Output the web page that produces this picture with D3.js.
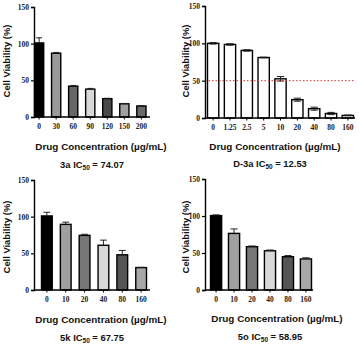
<!DOCTYPE html>
<html><head><meta charset="utf-8">
<script src="https://cdn.jsdelivr.net/npm/d3@7"></script>
<style>body{margin:0;background:#fff}svg{display:block}</style>
</head><body><svg id="c" width="359" height="346"></svg>
<script>
// ---- data ----
const yTicks = [0, 50, 100, 150];

const cats3a = ["0","30","60","90","120","150","200"];
const vals3a = [101, 87, 42, 38, 25, 18, 15];
const errs3a = [7, 1, 1, 1, 0.5, 0.5, 0.5];
const name3a = "3a", ic3a = "74.07";

const catsD3a = ["0","1.25","2.5","5","10","20","40","80","160"];
const valsD3a = [100, 98.5, 90.5, 81, 52.5, 24.5, 12.5, 6, 3.5];
const errsD3a = [1, 1, 1, 0.5, 3, 2, 2, 1.5, 0.5];
const nameD3a = "D-3a", icD3a = "12.53";

const cats5k = ["0","10","20","40","80","160"];
const vals5k = [101, 89.5, 74.5, 61, 48, 30.5];
const errs5k = [5, 3, 1.5, 7, 6, 0.5];
const name5k = "5k", ic5k = "67.75";

const cats5o = ["0","10","20","40","80","160"];
const vals5o = [100.5, 76.5, 58.5, 53, 45, 42];
const errs5o = [1, 6, 1, 1, 1.5, 1.5];
const name5o = "5o", ic5o = "58.95";

const refLine = 50;

// ---- styles ----
const grays7 = ["#000000","#9a9a9a","#666666","#d8d8d8","#4a4a4a","#a0a0a0","#6a6a6a"];
const grays6 = ["#000000","#a0a0a0","#777777","#d8d8d8","#555555","#a8a8a8"];
const white9 = Array(9).fill("#ffffff");

const svg = d3.select("#c");
const tickFont = "'Liberation Serif','Times New Roman',serif";
const titleFont = "'Liberation Sans',Arial,sans-serif";

function panel(o) {
  const g = svg.append("g");
  const y = d3.scaleLinear().domain([0, 150]).range([o.y0, o.y150]);
  const x = d3.scaleBand().domain(o.cats).range([o.b0, o.b1])
    .paddingInner(o.pi).paddingOuter(0);
  const bw = x.bandwidth();

  // bars
  g.selectAll("rect.bar").data(o.vals).join("rect")
    .attr("x", (d, i) => x(o.cats[i]))
    .attr("y", d => y(d))
    .attr("width", bw)
    .attr("height", d => y(0) - y(d))
    .attr("fill", (d, i) => o.colors[i])
    .attr("stroke", "#000").attr("stroke-width", 1.4);

  // error bars
  const eg = g.append("g").attr("stroke", "#222").attr("stroke-width", 1);
  o.vals.forEach((v, i) => {
    const cx = x(o.cats[i]) + bw / 2;
    const top = y(v + o.errs[i]);
    const bot = o.both ? y(v - o.errs[i]) : y(v);
    const cw = bw * 0.32;
    eg.append("line").attr("x1", cx).attr("x2", cx).attr("y1", top).attr("y2", bot);
    eg.append("line").attr("x1", cx - cw).attr("x2", cx + cw).attr("y1", top).attr("y2", top);
    if (o.both) eg.append("line").attr("x1", cx - cw).attr("x2", cx + cw).attr("y1", bot).attr("y2", bot);
  });

  // reference line
  if (o.ref != null) {
    g.append("line").attr("x1", o.ax).attr("x2", o.axEnd)
      .attr("y1", y(o.ref)).attr("y2", y(o.ref))
      .attr("stroke", "#e0302a").attr("stroke-width", 1)
      .attr("stroke-dasharray", "1.5,2");
  }

  // y axis
  const ya = g.append("g").attr("transform", `translate(${o.ax},0)`)
    .call(d3.axisLeft(y).tickValues(yTicks).tickSize(3).tickPadding(2).tickFormat(d3.format("d")));
  ya.select(".domain").attr("stroke", "#000").attr("stroke-width", 1.4);
  ya.selectAll(".tick line").attr("stroke", "#000").attr("stroke-width", 1.2);
  ya.selectAll("text").attr("font-family", tickFont).attr("font-weight", "bold")
    .attr("font-size", 7.5).attr("fill", "#222");

  // x axis
  const xa = g.append("g").attr("transform", `translate(0,${o.y0})`)
    .call(d3.axisBottom(x).tickSize(2.5).tickPadding(4));
  xa.select(".domain").remove();
  g.append("line").attr("x1", o.ax).attr("x2", o.axEnd).attr("y1", o.y0).attr("y2", o.y0)
    .attr("stroke", "#000").attr("stroke-width", 1.4);
  xa.selectAll(".tick line").attr("stroke", "#000").attr("stroke-width", 1);
  xa.selectAll("text").attr("font-family", tickFont).attr("font-weight", "bold")
    .attr("font-size", 7.5).attr("fill", "#222");

  // y title
  g.append("text").attr("transform", `translate(${o.ytX},${o.ytY}) rotate(-90)`)
    .attr("text-anchor", "middle").attr("dominant-baseline", "central")
    .attr("font-family", titleFont).attr("font-weight", "bold").attr("font-size", 9.4)
    .attr("fill", "#111").text("Cell Viability (%)");

  // x title
  g.append("text").attr("x", o.xtX).attr("y", o.xtY).attr("text-anchor", "middle")
    .attr("font-family", titleFont).attr("font-weight", "bold").attr("font-size", 9.9)
    .attr("fill", "#111").text("Drug Concentration (µg/mL)");

  // subtitle
  const st = g.append("text").attr("x", o.stX).attr("y", o.stY).attr("text-anchor", "middle")
    .attr("font-family", titleFont).attr("font-weight", "bold").attr("font-size", 9.4)
    .attr("fill", "#111");
  st.append("tspan").text(o.name + " IC");
  st.append("tspan").attr("font-size", 6.5).attr("dy", 2).text("50");
  st.append("tspan").attr("dy", -2).text(" = " + o.ic);
}

panel({cats: cats3a, vals: vals3a, errs: errs3a, colors: grays7, name: name3a, ic: ic3a,
  y0: 117, y150: 7, ax: 34, axEnd: 150, b0: 34.5, b1: 146, pi: 0.46,
  ytX: 6, ytY: 61, xtX: 101, xtY: 149.5, stX: 92, stY: 167.5});
panel({cats: catsD3a, vals: valsD3a, errs: errsD3a, colors: white9, name: nameD3a, ic: icD3a,
  both: true, ref: refLine,
  y0: 118, y150: 6, ax: 205, axEnd: 355, b0: 207.5, b1: 353.5, pi: 0.33,
  ytX: 185, ytY: 61, xtX: 275, xtY: 149.5, stX: 270, stY: 166.5});
panel({cats: cats5k, vals: vals5k, errs: errs5k, colors: grays6, name: name5k, ic: ic5k,
  y0: 290, y150: 180, ax: 34, axEnd: 150, b0: 41.5, b1: 146.5, pi: 0.43,
  ytX: 6, ytY: 237, xtX: 101, xtY: 323, stX: 92, stY: 340.5});
panel({cats: cats5o, vals: vals5o, errs: errs5o, colors: grays6, name: name5o, ic: ic5o,
  y0: 290, y150: 179, ax: 205, axEnd: 313, b0: 210.5, b1: 311.5, pi: 0.38,
  ytX: 185, ytY: 237, xtX: 277, xtY: 322, stX: 270, stY: 339.5});
</script></body></html>
